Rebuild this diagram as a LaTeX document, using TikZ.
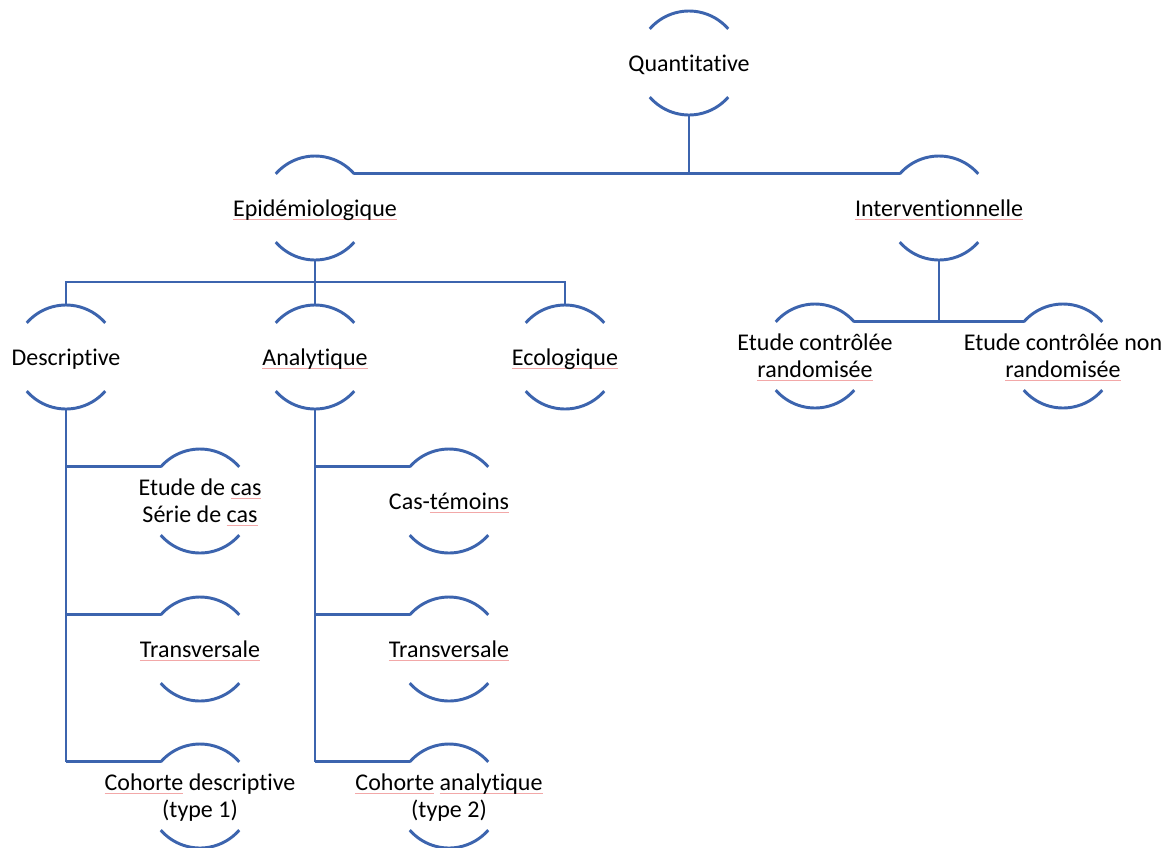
\documentclass[tikz,border=0pt]{standalone}
\usepackage{fontspec}
\setmainfont{Carlito}[Ligatures=NoCommon]
\usetikzlibrary{calc}
\definecolor{lineblue}{HTML}{3C64AE}
\definecolor{sqcol}{HTML}{F2A8A8}
\newcommand\sqw[1]{\leavevmode\setbox0\hbox{#1}\rlap{\textcolor{sqcol}{\rule[-2.6pt]{\wd0}{0.5pt}}}\box0\relax}
\begin{document}
\begin{tikzpicture}[x=0.75pt,y=-0.75pt,
  ring/.style={circle,minimum size=78pt,inner sep=0pt,outer sep=0pt,draw=none},
  arcline/.style={draw=lineblue,line width=2.2pt},
  conn/.style={draw=lineblue,line width=2.2pt},
  lbl/.style={font=\fontsize{18}{20.25}\selectfont,inner sep=0pt,align=center,anchor=base,text=black}]
\useasboundingbox[fill=white] (0,0) rectangle (1173,847);
% ring nodes
\node[ring] (q)   at (689,63) {};
\node[ring] (ep)  at (315,208) {};
\node[ring] (iv)  at (939,208) {};
\node[ring] (de)  at (66,357) {};
\node[ring] (an)  at (315,357) {};
\node[ring] (ec)  at (565,357) {};
\node[ring] (ecr) at (815,356) {};
\node[ring] (ecn) at (1063,356) {};
\node[ring] (d1)  at (200,501) {};
\node[ring] (d2)  at (200,649) {};
\node[ring] (d3)  at (200,796) {};
\node[ring] (a1)  at (449,501) {};
\node[ring] (a2)  at (449,649) {};
\node[ring] (a3)  at (449,796) {};
% arcs
\foreach \n in {q,ep,iv,de,an,ec,ecr,ecn,d1,d2,d3,a1,a2,a3}{
  \draw[arcline] (\n.139) arc[start angle=139,end angle=41,radius=39pt];
  \draw[arcline] (\n.221) arc[start angle=221,end angle=319,radius=39pt];
}
% labels
\node[lbl] (tq)   at ($(q)+(0,8)$) {Quantitative};
\node[lbl] (tep)  at ($(ep)+(0,8)$) {\sqw{Epidémiologique}};
\node[lbl] (tiv)  at ($(iv)+(0,8)$) {\sqw{Interventionnelle}};
\node[lbl] (tde)  at ($(de)+(0,8)$) {Descriptive};
\node[lbl] (tan)  at ($(an)+(0,8)$) {\sqw{Analytique}};
\node[lbl] (tec)  at ($(ec)+(0,8)$) {\sqw{Ecologique}};
\node[lbl] (tecr) at ($(ecr)+(0,21.5)$) {Etude contrôlée\\\sqw{randomisée}};
\node[lbl] (tecn) at ($(ecn)+(0,21.5)$) {Etude contrôlée non\\\sqw{randomisée}};
\node[lbl] (td1)  at ($(d1)+(0,21.5)$) {Etude de \sqw{cas}\\Série de \sqw{cas}};
\node[lbl] (td2)  at ($(d2)+(0,8)$) {\sqw{Transversale}};
\node[lbl] (td3)  at ($(d3)+(0,21.5)$) {\sqw{Cohorte} descriptive\\(type 1)};
\node[lbl] (ta1)  at ($(a1)+(0,8)$) {Cas-\sqw{témoins}};
\node[lbl] (ta2)  at ($(a2)+(0,8)$) {\sqw{Transversale}};
\node[lbl] (ta3)  at ($(a3)+(0,21.5)$) {\sqw{Cohorte} \sqw{analytique}\\(type 2)};
% connectors
\coordinate (epbus) at (315,282);
\draw[conn] (q.south) -- (q.south |- ep.41);
\draw[conn] (ep.41) -- (iv.139);
\draw[conn] (ep.south) -- (epbus);
\draw[conn] (de.north) -- (de.north |- epbus) -- (ec.north |- epbus) -- (ec.north);
\draw[conn] (an.north) -- (an.north |- epbus);
\draw[conn] (iv.south) -- (iv.south |- ecr.41);
\draw[conn] (ecr.41) -- (ecn.139);
\draw[conn] (de.south) -- (de.south |- d3.139);
\draw[conn] (de.south |- d1.139) -- (d1.139);
\draw[conn] (de.south |- d2.139) -- (d2.139);
\draw[conn] (de.south |- d3.139) -- (d3.139);
\draw[conn] (an.south) -- (an.south |- a3.139);
\draw[conn] (an.south |- a1.139) -- (a1.139);
\draw[conn] (an.south |- a2.139) -- (a2.139);
\draw[conn] (an.south |- a3.139) -- (a3.139);
\end{tikzpicture}
\end{document}
